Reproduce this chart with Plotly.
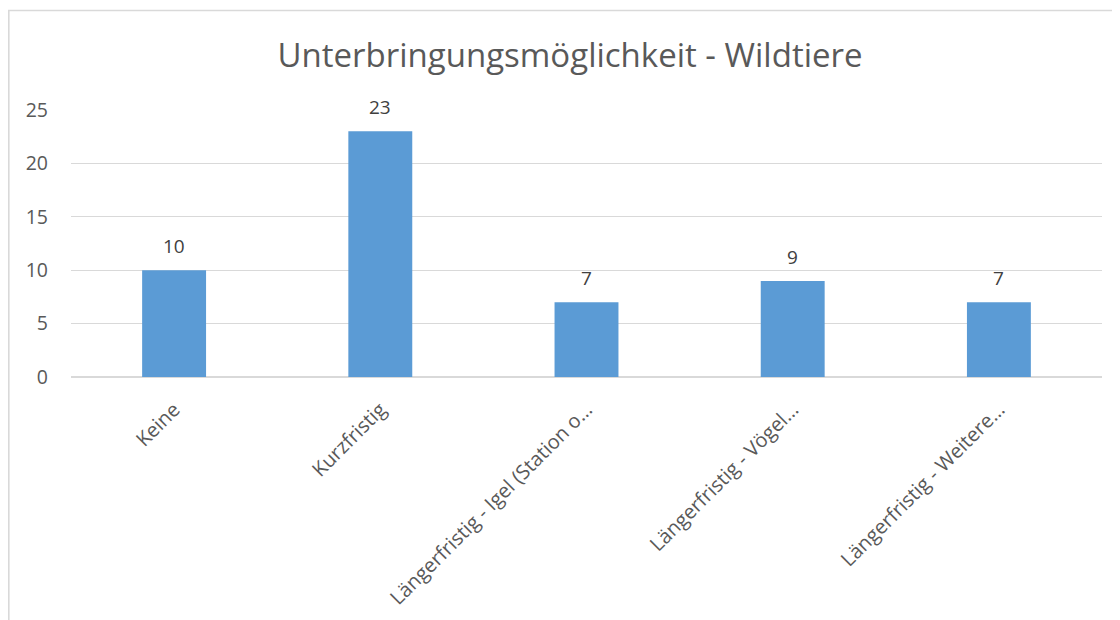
import plotly.graph_objects as go

categories = ["Keine", "Kurzfristig", "Längerfristig - Igel (Station o…",
              "Längerfristig - Vögel…", "Längerfristig - Weitere…"]
values = [10, 23, 7, 9, 7]
y_ticks = [0, 5, 10, 15, 20, 25]

FONT = "Open Sans"
TXT = "#595959"

# page has an 8px body offset; plot area should land at page x 71..1102, y 110..377
L, T = 63, 102
PW, PH = 1031, 267

fig = go.Figure(go.Bar(
    x=categories, y=values,
    marker=dict(color="#5B9BD5", line=dict(width=0)),
    cliponaxis=False,
))

for c, v in zip(categories, values):
    fig.add_annotation(x=c, y=v, text=str(v), showarrow=False, yanchor="bottom",
                       yshift=9, font=dict(family=FONT, size=19, color="#404040"))

fig.update_layout(
    width=1120, height=620,
    paper_bgcolor="white", plot_bgcolor="white",
    margin=dict(l=L, r=1120 - L - PW, t=T, b=620 - T - PH),
    bargap=0.69,
    showlegend=False,
    title=dict(text="Unterbringungsmöglichkeit - Wildtiere", x=562 / 1120,
               xanchor="center", y=1 - 47 / 620, yanchor="middle",
               font=dict(family=FONT, size=33, color=TXT)),
    font=dict(family=FONT, color=TXT),
    xaxis=dict(tickangle=-45, tickfont=dict(family=FONT, size=20, color=TXT),
               showgrid=False, showline=False, ticks="", automargin=False,
               ticklabelstandoff=16),
    yaxis=dict(range=[0, 25], tickvals=y_ticks, showgrid=True, gridcolor="#D9D9D9",
               gridwidth=1, zeroline=True, zerolinecolor="#D9D9D9", zerolinewidth=1.5,
               tickfont=dict(family=FONT, size=19.5, color=TXT), ticks="",
               ticklabelstandoff=22, automargin=False),
    shapes=[dict(type="rect", xref="paper", yref="paper",
                 x0=(0.8 - L) / PW, x1=1.1, y0=-1.2, y1=1 + (T - 2.5) / PH,
                 line=dict(color="#D9D9D9", width=1.6), fillcolor="rgba(0,0,0,0)")],
)

fig.write_html("out.html")
